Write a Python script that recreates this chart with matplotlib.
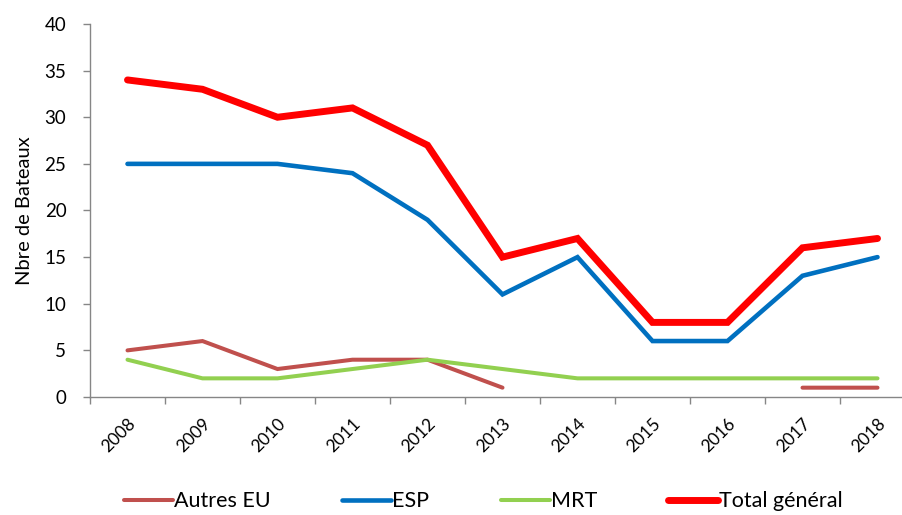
import numpy as np
import matplotlib
matplotlib.use("Agg")
import matplotlib.pyplot as plt
from matplotlib.ticker import FixedLocator

plt.rcParams['font.family'] = ['Lato', 'DejaVu Sans']

years = ['2008', '2009', '2010', '2011', '2012', '2013', '2014', '2015', '2016', '2017', '2018']
autres_eu = [5, 6, 3, 4, 4, 1, np.nan, np.nan, np.nan, 1, 1]
esp = [25, 25, 25, 24, 19, 11, 15, 6, 6, 13, 15]
mrt = [4, 2, 2, 3, 4, 3, 2, 2, 2, 2, 2]
total = [34, 33, 30, 31, 27, 15, 17, 8, 8, 16, 17]

fig = plt.figure(figsize=(9.03, 5.15), dpi=100)
ax = fig.add_axes([90/903, 1-397/515, (915-90)/903, (397-24)/515])

x = np.arange(len(years))
kw = dict(solid_capstyle='round', solid_joinstyle='miter')
ax.plot(x, autres_eu, color='#C0504D', lw=2.9, label='Autres EU', **kw)
ax.plot(x, esp, color='#0070C0', lw=3.3, label='ESP', **kw)
ax.plot(x, mrt, color='#92D050', lw=2.9, label='MRT', **kw)
ax.plot(x, total, color='#FF0000', lw=5.0, label='Total général', **kw)

ax.set_xlim(-0.5, len(years) - 0.5)
ax.set_ylim(0, 40)
ax.set_yticks(range(0, 41, 5))
ax.set_xticks(x)
ax.set_xticklabels(years, rotation=45, ha='right', rotation_mode='anchor', fontsize=12.5)
ax.xaxis.set_minor_locator(FixedLocator(np.arange(-0.5, len(years), 1)))
ax.tick_params(axis='x', which='major', length=0, pad=13)
ax.tick_params(axis='x', which='minor', length=5, color='#868686', width=1)
ax.tick_params(axis='y', length=5, color='#868686', width=1, labelsize=13.5, pad=12)
for s in ['top', 'right']:
    ax.spines[s].set_visible(False)
for s in ['left', 'bottom']:
    ax.spines[s].set_color('#868686')
    ax.spines[s].set_linewidth(1)
ax.set_ylabel('Nbre de Bateaux', fontsize=14.5, labelpad=8)

leg = fig.legend(loc='lower center', bbox_to_anchor=(0.535, -0.03), ncol=4, frameon=False,
                 fontsize=15.5, handlelength=2.3, columnspacing=3.3, handletextpad=0.05)
for l in leg.get_lines():
    l.set_solid_capstyle('round')

fig.savefig('out.png', dpi=100)
